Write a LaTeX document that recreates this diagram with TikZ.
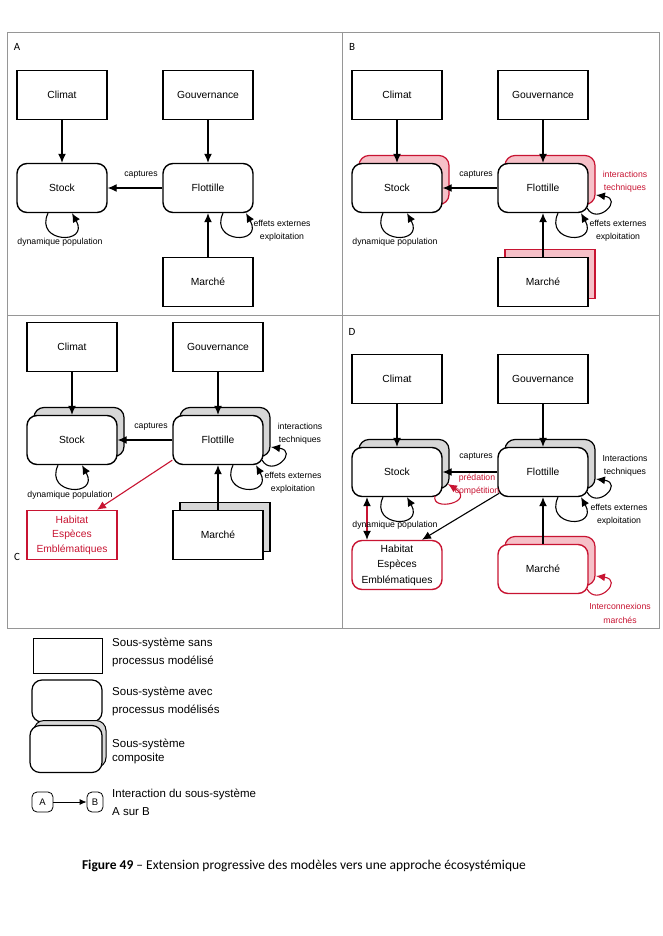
\documentclass[tikz,border=0pt]{standalone}
\usepackage{fontspec}
\setmainfont{Liberation Sans}
\newfontfamily\capfont{Carlito}
\usetikzlibrary{arrows.meta,shadows}
\definecolor{myred}{RGB}{200,20,50}
\definecolor{pinkfill}{RGB}{246,192,200}
\definecolor{shgray}{RGB}{215,215,215}
\definecolor{framegray}{RGB}{150,150,150}
\newcommand\lowloop[4][]{\draw[arr,#1] ([xshift=#3pt]#2.south) .. controls +(-14,30) and +(18,32) .. ([xshift=#4pt]#2.south);}
\newcommand\sideloop[2][]{\draw[arr,#1] ([xshift=44pt,yshift=-20pt]#2.center) .. controls +(10,18) and +(28,4) .. ([xshift=53pt,yshift=-7pt]#2.center);}
\begin{document}
\begin{tikzpicture}[x=1pt,y=-1pt,
  box/.style={draw, line width=1.4pt, minimum width=90pt, minimum height=49pt, inner sep=0pt, font=\fontsize{10.3}{12}\selectfont, fill=white, align=center},
  rbox/.style={box, rounded corners=10pt},
  grayshadow/.style={copy shadow={shadow xshift=7pt, shadow yshift=8pt, fill=shgray, draw=black, line width=1.2pt}},
  pinkshadow/.style={copy shadow={shadow xshift=7pt, shadow yshift=8pt, fill=pinkfill, draw=myred, line width=1.2pt}},
  arr/.style={line width=1.1pt, -{Latex[length=9pt,width=8pt]}},
  lbl/.style={font=\fontsize{8.7}{13}\selectfont, inner sep=0pt, align=center},
  rlbl/.style={lbl, text=myred},
  panel/.style={font=\capfont\fontsize{11}{12}\selectfont, inner sep=0pt},
  legtxt/.style={font=\fontsize{11.5}{12}\selectfont, inner sep=0pt, anchor=west},
]
\useasboundingbox (0,0) rectangle (662,936);
\fill[white] (0,0) rectangle (662,936);
% frame
\draw[framegray, line width=0.9pt] (7,32) rectangle (659,628);
\draw[framegray, line width=0.9pt] (342,32) -- (342,628);
\draw[framegray, line width=0.9pt] (7,315) -- (659,315);
\node[panel] (lA) at (17,47) {A};
\node[panel] (lB) at (352,47) {B};
\node[panel] (lC) at (17,557) {C};
\node[panel] (lD) at (352,332) {D};

% ---------- Panel A ----------
\node[box] (clA) at (62,95) {Climat};
\node[box] (goA) at (208,95) {Gouvernance};
\node[rbox] (stA) at (62,188) {Stock};
\node[rbox] (flA) at (208,188) {Flottille};
\node[box] (maA) at (208,282) {Marché};
\draw[arr] (clA) -- (stA);
\draw[arr] (goA) -- (flA);
\draw[arr] (flA) -- (stA);
\draw[arr] (maA) -- (flA);
\lowloop{stA}{-14}{10}
\lowloop{flA}{15}{38}
\node[lbl] (tA1) at (141,175) {captures};
\node[lbl] (tA2) at (60,242) {dynamique population};
\node[lbl] (tA3) at (282,230.5) {effets externes\\exploitation};

% ---------- Panel B ----------
\begin{scope}[shift={(335,0)}]
\node[box] (clB) at (62,95) {Climat};
\node[box] (goB) at (208,95) {Gouvernance};
\node[rbox, pinkshadow] (stB) at (62,188) {Stock};
\node[rbox, pinkshadow] (flB) at (208,188) {Flottille};
\node[box, pinkshadow] (maB) at (208,282) {Marché};
\draw[arr] (clB) -- (stB);
\draw[arr] (goB) -- (flB);
\draw[arr] (flB) -- (stB);
\draw[arr] (maB) -- (flB);
\lowloop{stB}{-14}{10}
\lowloop{flB}{15}{38}
\sideloop{flB}
\node[lbl] (tB1) at (141,175) {captures};
\node[lbl] (tB2) at (60,242) {dynamique population};
\node[lbl] (tB3) at (283,230.5) {effets externes\\exploitation};
\node[rlbl] (tB4) at (290,182) {interactions\\techniques};
\end{scope}

% ---------- Panel C ----------
\begin{scope}[shift={(10,252)}]
\node[box] (clC) at (62,95) {Climat};
\node[box] (goC) at (208,95) {Gouvernance};
\node[rbox, grayshadow] (stC) at (62,188) {Stock};
\node[rbox, grayshadow] (flC) at (208,188) {Flottille};
\node[box, grayshadow] (maC) at (208,283) {Marché};
\node[box, draw=myred, text=myred, font=\fontsize{10.3}{14.5}\selectfont] (haC) at (62,283) {Habitat\\Espèces\\Emblématiques};
\draw[arr] (clC) -- (stC);
\draw[arr] (goC) -- (flC);
\draw[arr] (flC) -- (stC);
\draw[arr] (maC) -- (flC);
\draw[arr, myred] ([yshift=5pt]flC.south west) -- ([xshift=25pt]haC.north);
\lowloop{stC}{-14}{10}
\lowloop{flC}{15}{38}
\sideloop{flC}
\node[lbl] (tC1) at (141,175) {captures};
\node[lbl] (tC2) at (60,243) {dynamique population};
\node[lbl] (tC3) at (283,230.5) {effets externes\\exploitation};
\node[lbl] (tC4) at (290,182) {interactions\\techniques};
\end{scope}

% ---------- Panel D ----------
\begin{scope}[shift={(335,284)}]
\node[box] (clD) at (62,95) {Climat};
\node[box] (goD) at (208,95) {Gouvernance};
\node[rbox, grayshadow] (stD) at (62,188) {Stock};
\node[rbox, grayshadow] (flD) at (208,188) {Flottille};
\node[rbox, draw=myred, pinkshadow] (maD) at (208,285) {Marché};
\node[rbox, draw=myred, font=\fontsize{10.3}{15.5}\selectfont] (haD) at (62,281) {Habitat\\Espèces\\Emblématiques};
\draw[arr] (clD) -- (stD);
\draw[arr] (goD) -- (flD);
\draw[arr] (flD) -- (stD);
\draw[arr] (maD) -- (flD);
\draw[arr] ([xshift=2pt,yshift=4pt]flD.south west) -- ([xshift=25pt]haD.north);
\draw[line width=1.1pt, myred, {Latex[length=9pt,width=8pt,color=black]}-{Latex[length=9pt,width=8pt,color=black]}] ([xshift=-30pt]stD.south) -- ([xshift=-30pt]haD.north);
\lowloop{stD}{-14}{10}
\lowloop{flD}{15}{38}
\sideloop{flD}
\sideloop[myred]{maD}
\draw[arr, myred] ([xshift=38pt,yshift=-24pt]stD.center) .. controls +(-4,16) and +(28,18) .. ([xshift=51pt,yshift=-12pt]stD.center);
\node[lbl] (tD1) at (141,173) {captures};
\node[lbl] (tD2) at (60,241) {dynamique population};
\node[lbl] (tD3) at (284,230.5) {effets externes\\exploitation};
\node[lbl] (tD4) at (290,182) {Interactions\\techniques};
\node[rlbl] (tD5) at (142,201) {prédation\\compétition};
\node[rlbl, font=\fontsize{8.7}{14}\selectfont] (tD6) at (285,329) {Interconnexions\\marchés};
\end{scope}

% ---------- Legend ----------
\node[box, minimum width=69pt, minimum height=35pt, line width=1pt] (lg1) at (67.5,655.5) {};
\node[rbox, minimum width=70pt, minimum height=42pt, line width=1.2pt] (lg2) at (67,701) {};
\node[rbox, minimum width=72pt, minimum height=47pt, line width=1.2pt, copy shadow={shadow xshift=4pt, shadow yshift=5pt, fill=shgray, draw=black, line width=1pt}] (lg3) at (66,749) {};
\node[rbox, minimum width=21pt, minimum height=20pt, rounded corners=5pt, line width=0.8pt, font=\fontsize{9.5}{10}\selectfont] (la) at (42.5,802) {A};
\node[rbox, minimum width=16pt, minimum height=20pt, rounded corners=5pt, line width=0.8pt, font=\fontsize{9.5}{10}\selectfont] (lb) at (95,802) {B};
\draw[line width=0.8pt, -{Latex[length=7pt,width=6pt]}] (la) -- (lb);
\node[legtxt] (g1) at (112,643) {Sous-système sans};
\node[legtxt] (g2) at (112,661) {processus modélisé};
\node[legtxt] (g3) at (112,692) {Sous-système avec};
\node[legtxt] (g4) at (112,710) {processus modélisés};
\node[legtxt] (g5) at (112,744) {Sous-système};
\node[legtxt] (g6) at (112,759) {composite};
\node[legtxt] (g7) at (112,794) {Interaction du sous-système};
\node[legtxt] (g8) at (112,812) {A sur B};

% ---------- Caption ----------
\node[font=\capfont\fontsize{13.5}{16}\selectfont, inner sep=0pt] (cap) at (304,866) {\textbf{Figure 49} – Extension progressive des modèles vers une approche écosystémique};
\end{tikzpicture}
\end{document}
